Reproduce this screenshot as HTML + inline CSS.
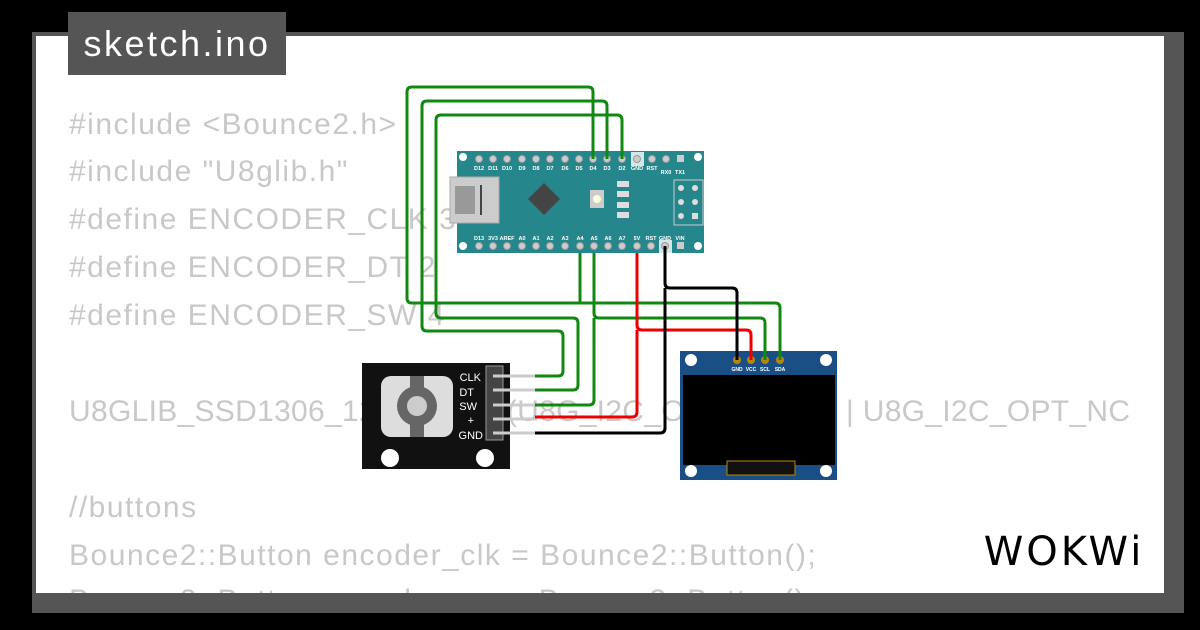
<!DOCTYPE html>
<html><head><meta charset="utf-8"><style>
html,body{margin:0;padding:0;background:#000;width:1200px;height:630px;overflow:hidden;font-family:"Liberation Sans",sans-serif}
#g{position:absolute;left:32px;top:32px;width:1152px;height:581px;background:#555}
#w{position:absolute;left:36px;top:36px;width:1128px;height:557px;background:#fff;overflow:hidden}
#t{position:absolute;left:68px;top:12px;width:218px;height:63px;background:#555;color:#fff;font-size:36px;letter-spacing:2.5px;line-height:63px;text-align:center}
.c{position:absolute;left:33px;color:#c8c8c8;font-size:30px;letter-spacing:1.5px;white-space:pre;line-height:1}
svg{position:absolute;left:0;top:0}
</style></head><body>
<div id="g"></div>
<div id="w">
<div class="c" style="top:74px">#include &lt;Bounce2.h&gt;</div>
<div class="c" style="top:121px">#include "U8glib.h"</div>
<div class="c" style="top:169px">#define ENCODER_CLK 3</div>
<div class="c" style="top:217px">#define ENCODER_DT 2</div>
<div class="c" style="top:265px">#define ENCODER_SW 4</div>
<div class="c" style="top:361px;letter-spacing:0.3px">U8GLIB_SSD1306_128X64 u8g(U8G_I2C_OPT_DEV_0 | U8G_I2C_OPT_NC</div>
<div class="c" style="top:457px">//buttons</div>
<div class="c" style="top:505px">Bounce2::Button encoder_clk = Bounce2::Button();</div>
<div class="c" style="top:550px">Bounce2::Button encoder_sw = Bounce2::Button();</div>
</div>
<div id="t">sketch.ino</div>
<svg width="1200" height="630" viewBox="0 0 1200 630">
<rect x="457" y="151" width="247" height="102" fill="#25868c"/>
<g fill="#fff"><circle cx="463" cy="157" r="4"/><circle cx="698" cy="157" r="4"/><circle cx="463" cy="246" r="4"/><circle cx="698" cy="246" r="4"/></g>
<rect x="631" y="152" width="13" height="14" fill="#fff" opacity=".8"/>
<rect x="659" y="240" width="13" height="14" fill="#fff" opacity=".8"/>
<g fill="#ccc" stroke="#999" stroke-width="1">
<circle cx="479" cy="159" r="3.5"/><circle cx="493" cy="159" r="3.5"/><circle cx="507" cy="159" r="3.5"/><circle cx="522" cy="159" r="3.5"/><circle cx="536" cy="159" r="3.5"/><circle cx="550" cy="159" r="3.5"/><circle cx="565" cy="159" r="3.5"/><circle cx="579" cy="159" r="3.5"/><circle cx="593" cy="159" r="3.5"/><circle cx="607" cy="159" r="3.5"/><circle cx="622" cy="159" r="3.5"/><circle cx="637" cy="159" r="3.5"/><circle cx="652" cy="159" r="3.5"/><circle cx="666" cy="159" r="3.5"/>
<circle cx="479" cy="246" r="3.5"/><circle cx="493" cy="246" r="3.5"/><circle cx="507" cy="246" r="3.5"/><circle cx="522" cy="246" r="3.5"/><circle cx="536" cy="246" r="3.5"/><circle cx="550" cy="246" r="3.5"/><circle cx="565" cy="246" r="3.5"/><circle cx="580" cy="246" r="3.5"/><circle cx="594" cy="246" r="3.5"/><circle cx="608" cy="246" r="3.5"/><circle cx="622" cy="246" r="3.5"/><circle cx="637" cy="246" r="3.5"/><circle cx="651" cy="246" r="3.5"/><circle cx="665" cy="246" r="3.5"/>
</g>
<rect x="677" y="155" width="7" height="7" fill="#ccc"/><rect x="677" y="242" width="7" height="7" fill="#ccc"/>
<g font-size="5.5" fill="#fff" font-weight="bold" text-anchor="middle">
<text x="479" y="170">D12</text><text x="493" y="170">D11</text><text x="507" y="170">D10</text><text x="522" y="170">D9</text><text x="536" y="170">D8</text><text x="550" y="170">D7</text><text x="565" y="170">D6</text><text x="579" y="170">D5</text><text x="593" y="170">D4</text><text x="607" y="170">D3</text><text x="622" y="170">D2</text><text x="637" y="170">GND</text><text x="652" y="170">RST</text><text x="666" y="174">RX0</text><text x="680" y="174">TX1</text>
<text x="479" y="240">D13</text><text x="493" y="240">3V3</text><text x="507" y="240">AREF</text><text x="522" y="240">A0</text><text x="536" y="240">A1</text><text x="550" y="240">A2</text><text x="565" y="240">A3</text><text x="580" y="240">A4</text><text x="594" y="240">A5</text><text x="608" y="240">A6</text><text x="622" y="240">A7</text><text x="637" y="240">5V</text><text x="651" y="240">RST</text><text x="665" y="240">GND</text><text x="680" y="240">VIN</text>
</g>
<rect x="450" y="177" width="49" height="46" fill="#ccc" stroke="#aaa"/>
<rect x="455" y="186" width="20" height="28" fill="#999"/>
<rect x="480" y="185" width="2" height="30" fill="#444"/>
<polygon points="544,183 560,199 544,215 528,199" fill="#444"/>
<rect x="590" y="190" width="14" height="18" fill="#ccc"/><circle cx="597" cy="199" r="4" fill="#ffd"/>
<g fill="#ddd"><rect x="617" y="181" width="12" height="6"/><rect x="617" y="191" width="12" height="6"/><rect x="617" y="202" width="12" height="6"/><rect x="617" y="212" width="12" height="6"/></g>
<rect x="674" y="180" width="29" height="45" fill="none" stroke="#ccc"/>
<g fill="#ddd"><circle cx="681" cy="188" r="3"/><circle cx="695" cy="188" r="3"/><circle cx="681" cy="202" r="3"/><circle cx="695" cy="202" r="3"/><circle cx="681" cy="216" r="3"/><rect x="692" y="213" width="6" height="6"/></g>
<rect x="362" y="363" width="148" height="106" fill="#111"/>
<rect x="381" y="376" width="72" height="61" rx="10" fill="#ddd"/>
<rect x="410" y="376" width="14" height="61" fill="#666"/>
<circle cx="417" cy="406" r="20" fill="#666"/><circle cx="417" cy="406" r="10" fill="#ccc"/>
<circle cx="390" cy="458" r="9" fill="#fff"/><circle cx="485" cy="458" r="9" fill="#fff"/>
<rect x="486" y="366" width="17" height="74" fill="#444" stroke="#999"/>
<g stroke="#ccc" stroke-width="3"><line x1="493" y1="376" x2="537" y2="376"/><line x1="493" y1="390" x2="537" y2="390"/><line x1="493" y1="405" x2="537" y2="405"/><line x1="493" y1="419" x2="537" y2="419"/><line x1="493" y1="433" x2="537" y2="433"/></g>
<g fill="#fff" font-size="11" text-anchor="end"><text x="481" y="381">CLK</text><text x="474" y="396">DT</text><text x="477" y="410">SW</text><text x="474" y="424">+</text><text x="483" y="439">GND</text></g>
<rect x="680" y="351" width="157" height="129" fill="#1a4f85"/>
<rect x="683" y="375" width="152" height="90" fill="#000"/>
<rect x="727" y="461" width="68" height="14" fill="#111" stroke="#b8860b"/>
<g fill="#fff"><circle cx="691" cy="360" r="6"/><circle cx="826" cy="360" r="6"/><circle cx="691" cy="471" r="6"/><circle cx="826" cy="471" r="6"/></g>
<g fill="#b8860b"><circle cx="737" cy="360" r="4"/><circle cx="751" cy="360" r="4"/><circle cx="765" cy="360" r="4"/><circle cx="780" cy="360" r="4"/></g>
<g font-size="5" fill="#fff" text-anchor="middle" font-weight="bold"><text x="737" y="371">GND</text><text x="751" y="371">VCC</text><text x="765" y="371">SCL</text><text x="780" y="371">SDA</text></g>
<g fill="none" stroke-width="3" stroke-linejoin="round">
<path d="M593 159V92q0-5-5-5H412q-5 0-5 5V298q0 5 5 5H775q5 0 5 5V360" stroke="#118811"/>
<path d="M607 159V106q0-5-5-5H427q-5 0-5 5V326q0 5 5 5H558q5 0 5 5V371q0 5-5 5H535" stroke="#118811"/>
<path d="M622 159V120q0-5-5-5H441q-5 0-5 5V313q0 5 5 5H573q5 0 5 5V385q0 5-5 5H535" stroke="#118811"/>
<path d="M580 253V303" stroke="#118811"/>
<path d="M594 253V313q0 5 5 5H760q5 0 5 5V360M594 318V400q0 5-5 5H535" stroke="#118811"/>
<path d="M637 253V325q0 5 5 5H746q5 0 5 5V360M637 330V412q0 5-5 5H535" stroke="#ee0000"/>
<path d="M665 246V283q0 5 5 5H732q5 0 5 5V360M665 288V428q0 5-5 5H535" stroke="#000"/>
</g>
<text x="1064" y="565" font-size="40" text-anchor="middle" fill="#000" font-family="DejaVu Sans" letter-spacing="3">WOKWi</text>
</svg>
</body></html>
